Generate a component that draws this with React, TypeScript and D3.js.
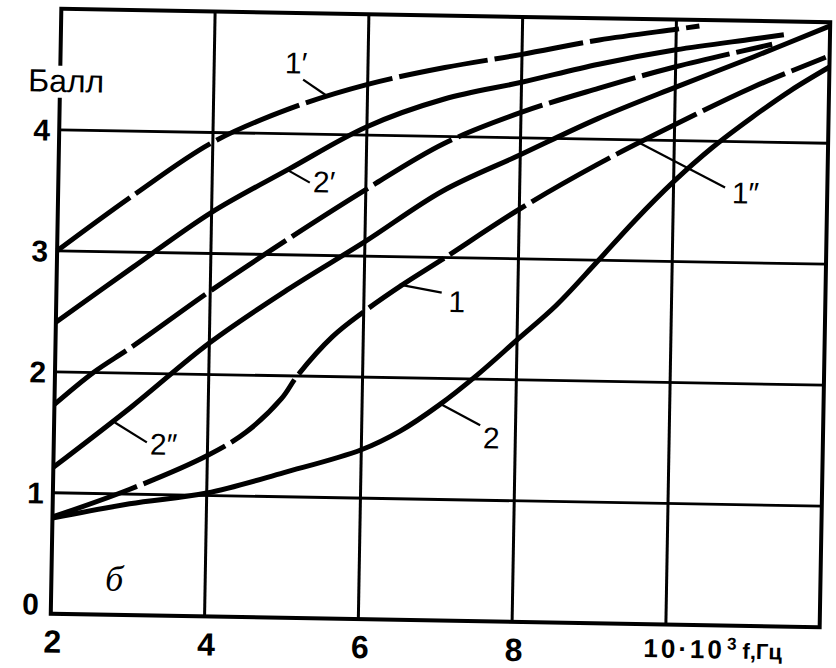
import React from 'react';
import * as d3 from 'd3';

const W = 836;
const H = 668;

// axis / grid values
const xTickValues = [2, 4, 6, 8];
const yTickValues = [0, 1, 2, 3, 4];
const gridXValues = [4, 6, 8, 10];
const gridYValues = [1, 2, 3, 4];
const xLastLabelMain = '10·10';
const xLastLabelSup = '3';
const xLastLabelUnit = ' f,Гц';
const yAxisTitle = 'Балл';
const panelLetter = 'б';

// curve 1'
const c1pX = [2, 3, 4, 5, 6, 7, 8, 9, 10, 10.3];
const c1pY = [3.0, 3.48, 3.92, 4.21, 4.42, 4.57, 4.69, 4.82, 4.92, 4.95];
// curve 2'
const c2pX = [2, 3, 4, 5, 6, 7, 8, 9, 10, 11, 11.4];
const c2pY = [2.41, 2.88, 3.34, 3.71, 4.07, 4.31, 4.46, 4.62, 4.75, 4.85, 4.89];
// curve 1''
const c1ppX = [2, 2.5, 3, 4, 5, 6, 7, 8, 9, 10, 11.25];
const c1ppY = [1.73, 2.0, 2.22, 2.69, 3.13, 3.55, 3.94, 4.21, 4.42, 4.61, 4.81];
// curve 2''
const c2ppX = [2, 3, 4, 5, 6, 7, 8, 9, 10, 11, 12];
const c2ppY = [1.21, 1.72, 2.26, 2.71, 3.12, 3.55, 3.86, 4.17, 4.44, 4.7, 4.97];
// curve 1
const c1X = [2, 3, 4, 4.5, 4.95, 5.15, 5.6, 6, 6.5, 7, 8, 9, 10, 11, 11.95];
const c1Y = [0.8, 1.04, 1.33, 1.53, 1.81, 2.0, 2.33, 2.54, 2.77, 2.98, 3.41, 3.79, 4.13, 4.45, 4.71];
// curve 2
const c2X = [2, 3, 4, 5, 6, 6.5, 7, 7.5, 8, 8.5, 9, 9.5, 10, 10.5, 11, 11.5, 12];
const c2Y = [0.79, 0.92, 1.02, 1.2, 1.4, 1.56, 1.78, 2.04, 2.33, 2.62, 2.97, 3.33, 3.66, 3.95, 4.2, 4.43, 4.63];

const curveNames = ["1′", "2′", "1″", "2″", "1", "2"];
const curveXs = [c1pX, c2pX, c1ppX, c2ppX, c1X, c2X];
const curveYs = [c1pY, c2pY, c1ppY, c2ppY, c1Y, c2Y];
const curveDashed = [true, false, true, false, true, false];

// curve labels with leader lines (data coords)
const labelText = ["1′", "2′", "2″", "1″", "1", "2"];
const labelX = [4.92, 5.31, 3.25, 10.76, 7.1, 7.58];
const labelY = [4.5, 3.52, 1.33, 3.49, 2.55, 1.43];
const leadX1 = [5.16, 4.98, 2.79, 9.55, 6.46, 7.02];
const leadY1 = [4.45, 3.7, 1.59, 3.975, 2.77, 1.79];
const leadX2 = [5.47, 5.27, 3.21, 10.67, 7.01, 7.54];
const leadY2 = [4.32, 3.6, 1.43, 3.62, 2.71, 1.62];

export default function App() {
  const left = 56, right = 825, top = 15.5, bottom = 620.5;
  const x = d3.scaleLinear().domain([2, 12]).range([left, right]);
  const y = d3.scaleLinear().domain([0, 5]).range([bottom, top]);
  const line = d3
    .line<[number, number]>()
    .x((d) => x(d[0]))
    .y((d) => y(d[1]))
    .curve(d3.curveCatmullRom.alpha(0.5));

  const font = "'Liberation Sans', Arial, Helvetica, sans-serif";

  return (
    <svg
      width={W}
      height={H}
      viewBox={`0 0 ${W} ${H}`}
      style={{ position: 'absolute', left: 0, top: 0, background: '#fff' }}
    >
      <rect x={0} y={0} width={W} height={H} fill="#fff" />
      <g transform="rotate(1 440.5 318)">
        {gridXValues.map((v) => (
          <line key={'gx' + v} x1={x(v)} x2={x(v)} y1={y(5)} y2={y(0)} stroke="#000" strokeWidth={3} />
        ))}
        {gridYValues.map((v) => (
          <line key={'gy' + v} x1={x(2)} x2={x(12)} y1={y(v)} y2={y(v)} stroke="#000" strokeWidth={2.8} />
        ))}
        <rect
          x={x(2)}
          y={y(5)}
          width={x(12) - x(2)}
          height={y(0) - y(5)}
          fill="none"
          stroke="#000"
          strokeWidth={4}
        />
        {curveNames.map((n, i) => {
          const pts: [number, number][] = curveXs[i].map((xv, j) => [xv, curveYs[i][j]]);
          return (
            <path
              key={'c' + i}
              d={line(pts) || ''}
              fill="none"
              stroke="#000"
              strokeWidth={5}
              strokeDasharray={curveDashed[i] ? '90 7' : undefined}
              strokeLinecap="butt"
            />
          );
        })}
        {labelText.map((t, i) => (
          <g key={'l' + i}>
            <line
              x1={x(leadX1[i])}
              y1={y(leadY1[i])}
              x2={x(leadX2[i])}
              y2={y(leadY2[i])}
              stroke="#000"
              strokeWidth={2.2}
            />
            <text x={x(labelX[i])} y={y(labelY[i])} fontFamily={font} fontSize={30} fill="#000">
              {t}
            </text>
          </g>
        ))}
        {/* y tick labels */}
        {yTickValues.map((v) => (
          <text
            key={'yt' + v}
            x={v === 0 ? x(2) - 12 : x(2) - 9}
            y={v === 0 ? y(v) + 1 : y(v) + 11}
            textAnchor="end"
            fontFamily={font}
            fontSize={30}
            fontWeight="bold"
            fill="#000"
          >
            {v}
          </text>
        ))}
        {/* x tick labels */}
        {xTickValues.map((v) => (
          <text
            key={'xt' + v}
            x={x(v) + 2}
            y={y(0) + 39}
            textAnchor="middle"
            fontFamily={font}
            fontSize={32}
            fontWeight="bold"
            fill="#000"
          >
            {v}
          </text>
        ))}
        <text x={x(10) - 22} y={y(0) + 33} fontFamily={font} fontWeight="bold" fill="#000">
          <tspan fontSize={26} letterSpacing={3}>{xLastLabelMain}</tspan>
          <tspan dx={2} dy={-9} fontSize={17}>{xLastLabelSup}</tspan>
          <tspan dy={9} fontSize={22}>{xLastLabelUnit}</tspan>
        </text>
        {/* y axis title */}
        <rect x={x(2) - 14} y={y(4) - 64} width={28} height={32} fill="#fff" />
        <text x={x(2) - 32} y={y(4) - 38} fontFamily={font} fontSize={32} fill="#000">
          {yAxisTitle}
        </text>
        <text
          x={x(2.7)}
          y={y(0.2)}
          fontFamily="'Liberation Serif', 'DejaVu Serif', serif"
          fontStyle="italic"
          fontSize={36}
          fill="#000"
        >
          {panelLetter}
        </text>
      </g>
    </svg>
  );
}
